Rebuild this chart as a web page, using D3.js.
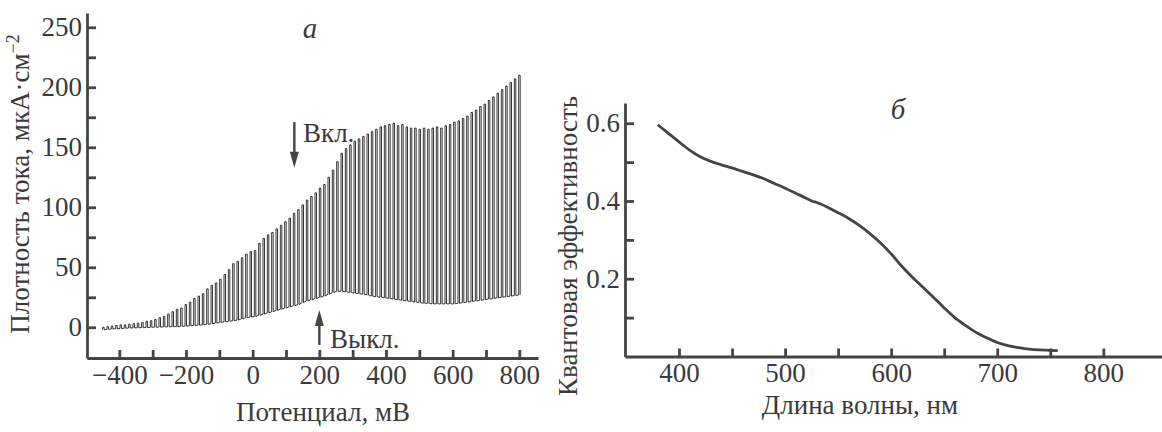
<!DOCTYPE html>
<html>
<head>
<meta charset="utf-8">
<script src="https://cdn.jsdelivr.net/npm/d3@7"></script>
<style>
  body { margin: 0; background: #fff; }
  text { font-family: "Liberation Serif", "Times New Roman", serif; fill: #3a3a3a; }
</style>
</head>
<body>
<svg width="1162" height="432"></svg>
<script>
// ---- panel a: chopped-light photocurrent vs potential ----
// potential (mV) where the light is switched on, one entry per chopper cycle
const chopE = [
  -450,-437,-424,-411,-398,-385,-372,-359,-346,-333,-320,-307,-294,-281,-268,-255,
  -242,-229,-216,-203,-190,-177,-164,-151,-138,-125,-112,-99,-86,-73,-60,-47,
  -34,-21,-8,5,18,31,44,57,70,83,96,109,122,135,148,161,
  174,187,200,213,226,239,252,265,278,291,304,317,330,343,356,369,
  382,395,408,421,434,447,460,473,486,499,512,525,538,551,564,577,
  590,603,616,629,642,655,668,681,694,707,720,733,746,759,772,785,798
];
// current density under illumination (µA/cm²)
const lightJ = [
  0,0.5,1,1.5,2,2,2.5,3,3.5,4,5,5.5,6.5,8,9,11,
  13,15,16,19,21,24,26,28,32,35,37,40,44,48,53,55,
  58,61,63,64,70,74,77,79,82,85,88,91,95,98,102,106,
  109,112,116,119,125,131,138,145,149,152,155,157,159,161,163,165,
  167,168,169,170,168,169,167,166,166,165,166,165,166,167,166,168,
  169,171,172,174,176,179,181,184,186,189,192,195,198,201,204,207,210
];
// dark current density (µA/cm²)
const darkJ = [
  -2,-1.7,-1.4,-1.2,-1,-0.8,-0.6,-0.5,-0.4,-0.3,-0.2,0,0.1,0.2,0.3,0.4,
  0.5,0.6,0.8,1,1.2,1.5,1.8,2,2.5,3,3.5,4,4.5,5,5.5,6,
  7,8,8.5,9,10,11,12,13,14,15,16,17,18,19,20.5,22,
  23,24,25,26,27.5,29,30,30,29.5,29,28.5,28,27.5,27,26,25.5,
  25,24.5,24,23.5,23,22.5,22,21.5,21,20.5,20,20,19.5,19.5,19.5,19.5,
  19.5,19.5,20,20.5,21,21.5,22,22.5,23,23.5,24,24.5,25,25.5,26,26.5,27
];
const xTicksA = [-400,-300,-200,-100,0,100,200,300,400,500,600,700,800];
const xLabelsA = [-400,-200,0,200,400,600,800];
const yTicksA = [0,25,50,75,100,125,150,175,200,225,250];
const yLabelsA = [0,50,100,150,200,250];

// ---- panel б: quantum efficiency vs wavelength ----
const wavelength = [380,390,400,410,420,430,440,450,460,470,480,490,500,510,520,525,530,540,550,560,
  570,580,590,600,610,620,630,640,650,660,670,680,690,700,710,720,730,740,750,757];
const qe = [0.596,0.574,0.552,0.531,0.514,0.502,0.493,0.485,0.476,0.467,0.457,0.445,0.433,0.42,0.407,0.4,0.396,0.384,0.37,0.355,
  0.337,0.316,0.292,0.264,0.232,0.204,0.178,0.152,0.125,0.1,0.08,0.062,0.048,0.036,0.028,0.023,0.019,0.017,0.016,0.015];
const xTicksB = [400,450,500,550,600,650,700,750,800];
const xLabelsB = [400,500,600,700,800];
const yTicksB = [0.1,0.2,0.3,0.4,0.5,0.6];
const yLabelsB = [0.2,0.4,0.6];

const axisColor = "#444";
const fontSize = 27;
const onWidth = 4.5; // mV the light stays on in each cycle

const svg = d3.select("svg");

// scales
const xA = d3.scaleLinear().domain([-497, 856]).range([87, 538]);
const yA = d3.scaleLinear().domain([-25.6, 261.9]).range([358, 13]);
const xB = d3.scaleLinear().domain([349.1, 855.3]).range([625, 1162]);
const yB = d3.scaleLinear().domain([0, 0.652]).range([356.5, 103]);

function styleAxis(g) {
  g.select(".domain").attr("stroke", axisColor).attr("stroke-width", 2.8);
  g.selectAll(".tick line").attr("stroke", axisColor).attr("stroke-width", 2.8);
  g.selectAll(".tick text").attr("font-size", fontSize).attr("font-family", null).attr("fill", "#3a3a3a");
}

// panel a axes
svg.append("g")
  .attr("transform", `translate(0,${yA.range()[0]})`)
  .call(d3.axisBottom(xA).tickValues(xTicksA).tickSizeInner(-8).tickSizeOuter(0).tickPadding(7)
    .tickFormat(d => xLabelsA.includes(d) ? d3.format("d")(d).replace("-", "\u2212") : ""))
  .call(styleAxis);

svg.append("g")
  .attr("transform", `translate(${xA.range()[0]},0)`)
  .call(d3.axisLeft(yA).tickValues(yTicksA).tickSizeInner(-9).tickSizeOuter(0).tickPadding(5)
    .tickFormat(d => yLabelsA.includes(d) ? d : ""))
  .call(styleAxis);

// chopped current trace
const trace = [];
chopE.forEach((e, i) => {
  trace.push([e, darkJ[i]]);
  trace.push([e, lightJ[i]]);
  trace.push([e + onWidth, lightJ[i]]);
  trace.push([e + onWidth, darkJ[i]]);
});
svg.append("path")
  .datum(trace)
  .attr("fill", "none")
  .attr("stroke", "#1e1e1e")
  .attr("stroke-width", 0.9)
  .attr("d", d3.line().x(d => xA(d[0])).y(d => yA(d[1])));

// arrows for light on / off
function arrow(x, yTail, yTip) {
  const dir = yTip > yTail ? 1 : -1;
  svg.append("line")
    .attr("x1", x).attr("x2", x)
    .attr("y1", yTail).attr("y2", yTip - dir * 10)
    .attr("stroke", axisColor).attr("stroke-width", 2.4);
  svg.append("path")
    .attr("d", `M${x - 4.5},${yTip - dir * 16} L${x + 4.5},${yTip - dir * 16} L${x},${yTip} Z`)
    .attr("fill", axisColor);
}
arrow(xA(125), yA(171), yA(133));
arrow(xA(200), yA(-14.7), yA(14.4));

svg.append("text").attr("x", xA(151)).attr("y", yA(154))
  .attr("font-size", fontSize).text("Вкл.");
svg.append("text").attr("x", xA(232)).attr("y", yA(-17.3))
  .attr("font-size", fontSize).text("Выкл.");

// panel a labels
svg.append("text").attr("x", 310).attr("y", 38).attr("text-anchor", "middle")
  .attr("font-size", 29).attr("font-style", "italic").text("а");
svg.append("text").attr("x", 323).attr("y", 421).attr("text-anchor", "middle")
  .attr("font-size", fontSize).text("Потенциал, мВ");
const yTitleA = svg.append("text")
  .attr("transform", "translate(29,184) rotate(-90)")
  .attr("text-anchor", "middle")
  .attr("font-size", fontSize);
yTitleA.append("tspan").text("Плотность тока, мкА·см");
yTitleA.append("tspan").attr("dy", -10).attr("font-size", 18).text("\u22122");

// panel б axes
svg.append("g")
  .attr("transform", `translate(0,${yB.range()[0]})`)
  .call(d3.axisBottom(xB).tickValues(xTicksB).tickSizeInner(-8).tickSizeOuter(0).tickPadding(6)
    .tickFormat(d => xLabelsB.includes(d) ? d : ""))
  .call(styleAxis);

svg.append("g")
  .attr("transform", `translate(${xB.range()[0]},0)`)
  .call(d3.axisLeft(yB).tickValues(yTicksB).tickSizeInner(-9).tickSizeOuter(0).tickPadding(5)
    .tickFormat(d => yLabelsB.includes(d) ? d3.format(".1f")(d) : ""))
  .call(styleAxis);

svg.append("path")
  .datum(wavelength.map((w, i) => [w, qe[i]]))
  .attr("fill", "none")
  .attr("stroke", "#444")
  .attr("stroke-width", 2.8)
  .attr("d", d3.line().x(d => xB(d[0])).y(d => yB(d[1])).curve(d3.curveMonotoneX));

svg.append("text").attr("x", 898).attr("y", 119).attr("text-anchor", "middle")
  .attr("font-size", 29).attr("font-style", "italic").text("б");
svg.append("text").attr("x", 860).attr("y", 414).attr("text-anchor", "middle")
  .attr("font-size", fontSize).text("Длина волны, нм");
svg.append("text")
  .attr("transform", "translate(577,246) rotate(-90)")
  .attr("text-anchor", "middle")
  .attr("font-size", fontSize)
  .text("Квантовая эффективность");
</script>
</body>
</html>
